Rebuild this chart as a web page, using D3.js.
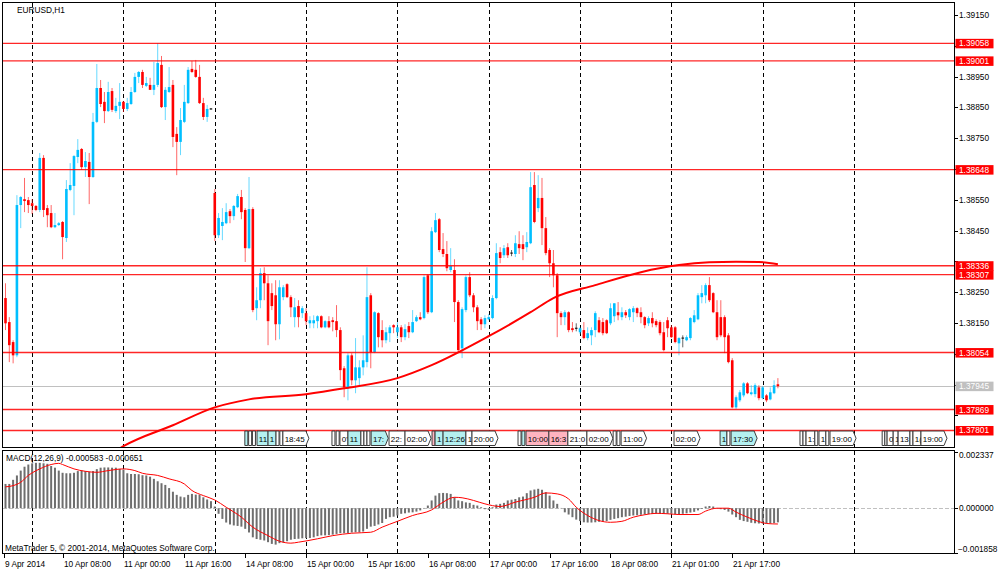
<html>
<head>
  <meta http-equiv="Content-Type" content="text/html;charset=utf-8"/>
  <script src="https://cdn.jsdelivr.net/npm/d3@7/dist/d3.min.js"></script>
  <style>
    body { margin: 0; background: #fff; }
    svg { display: block; }
    text { font-family: "Liberation Sans", Arial, sans-serif; font-size: 8.3px; fill: #000; }
  </style>
</head>
<body>
<svg id="chart" width="1000" height="574"></svg>
<script>
// EURUSD H1, one value per bar (bar 0 = 9 Apr 17:00)
var opens = [
  1.38231,1.38153,1.38088,1.38045,1.38533,1.38552,1.38549,1.38539,1.38530,1.38517,
  1.38686,1.38523,1.38507,1.38461,1.38468,1.38478,1.38426,1.38582,1.38595,1.38689,
  1.38715,1.38656,1.38673,1.38624,1.38803,1.38913,1.38868,1.38838,1.38903,1.38838,
  1.38855,1.38868,1.38845,1.38861,1.38900,1.38949,1.38965,1.38920,1.38923,1.38907,
  1.38923,1.38988,1.38851,1.38900,1.38923,1.38764,1.38738,1.38803,1.38864,1.38975,
  1.38972,1.38949,1.38864,1.38819,1.38845,1.38572,1.38435,1.38465,1.38474,1.38513,
  1.38497,1.38526,1.38559,1.38517,1.38393,1.38520,1.38198,1.38224,1.38312,1.38279,
  1.38247,1.38240,1.38146,1.38234,1.38276,1.38234,1.38169,1.38205,1.38182,1.38182,
  1.38149,1.38149,1.38156,1.38172,1.38136,1.38156,1.38159,1.38156,1.38127,1.38003,
  1.37938,1.38045,1.37964,1.37971,1.38006,1.38023,1.38240,1.38055,1.38182,1.38127,
  1.38094,1.38117,1.38143,1.38120,1.38136,1.38104,1.38140,1.38120,1.38156,1.38169,
  1.38166,1.38305,1.38185,1.38445,1.38487,1.38390,1.38374,1.38322,1.38322,1.38218,
  1.38068,1.38192,1.38299,1.38240,1.38201,1.38162,1.38146,1.38162,1.38166,1.38231,
  1.38380,1.38370,1.38396,1.38377,1.38374,1.38406,1.38406,1.38396,1.38409,1.38598,
  1.38523,1.38556,1.38458,1.38387,1.38344,1.38305,1.38182,1.38169,1.38185,1.38133,
  1.38133,1.38120,1.38127,1.38101,1.38110,1.38127,1.38159,1.38153,1.38159,1.38149,
  1.38172,1.38185,1.38169,1.38185,1.38169,1.38185,1.38198,1.38185,1.38169,1.38149,
  1.38166,1.38156,1.38153,1.38120,1.38159,1.38136,1.38136,1.38084,1.38101,1.38094,
  1.38101,1.38153,1.38162,1.38234,1.38240,1.38273,1.38247,1.38185,1.38169,1.38169,
  1.38110,1.38029,1.37876,1.37899,1.37915,1.37954,1.37919,1.37919,1.37941,1.37906,
  1.37915,1.37902,1.37922,1.37951
];
var highs = [
  1.38279,1.38169,1.38094,1.38565,1.38562,1.38621,1.38559,1.38552,1.38533,1.38702,
  1.38695,1.38533,1.38533,1.38507,1.38478,1.38481,1.38614,1.38669,1.38695,1.38747,
  1.38718,1.38705,1.38702,1.38832,1.38991,1.38939,1.38900,1.38933,1.38913,1.38881,
  1.38929,1.38871,1.38881,1.38916,1.38962,1.38968,1.38972,1.38949,1.38946,1.38998,
  1.39059,1.39017,1.38916,1.38981,1.38939,1.38786,1.38848,1.38923,1.38981,1.39001,
  1.39004,1.38988,1.38881,1.38858,1.38848,1.38585,1.38507,1.38523,1.38539,1.38520,
  1.38533,1.38569,1.38582,1.38523,1.38624,1.38526,1.38266,1.38328,1.38331,1.38305,
  1.38279,1.38289,1.38289,1.38273,1.38279,1.38240,1.38231,1.38224,1.38205,1.38198,
  1.38172,1.38175,1.38175,1.38175,1.38159,1.38172,1.38169,1.38208,1.38136,1.38010,
  1.38052,1.38052,1.38101,1.38029,1.38110,1.38331,1.38247,1.38188,1.38185,1.38159,
  1.38136,1.38143,1.38146,1.38153,1.38143,1.38146,1.38153,1.38192,1.38175,1.38185,
  1.38305,1.38309,1.38461,1.38507,1.38491,1.38442,1.38416,1.38393,1.38357,1.38224,
  1.38201,1.38305,1.38315,1.38247,1.38208,1.38169,1.38175,1.38179,1.38240,1.38409,
  1.38396,1.38403,1.38409,1.38387,1.38435,1.38448,1.38435,1.38445,1.38640,1.38640,
  1.38630,1.38621,1.38494,1.38393,1.38387,1.38312,1.38188,1.38192,1.38188,1.38153,
  1.38149,1.38136,1.38153,1.38136,1.38136,1.38188,1.38169,1.38166,1.38162,1.38214,
  1.38214,1.38218,1.38201,1.38192,1.38198,1.38205,1.38201,1.38201,1.38172,1.38172,
  1.38185,1.38162,1.38159,1.38153,1.38169,1.38143,1.38140,1.38104,1.38110,1.38110,
  1.38169,1.38192,1.38247,1.38273,1.38279,1.38299,1.38250,1.38224,1.38224,1.38175,
  1.38117,1.38036,1.37915,1.37932,1.37958,1.37958,1.37948,1.37954,1.37948,1.37945,
  1.37919,1.37941,1.37964,1.37971
];
var lows = [
  1.38127,1.38023,1.38019,1.38039,1.38458,1.38510,1.38507,1.38504,1.38513,1.38510,
  1.38494,1.38461,1.38458,1.38458,1.38465,1.38357,1.38413,1.38578,1.38500,1.38669,
  1.38647,1.38624,1.38536,1.38621,1.38799,1.38851,1.38799,1.38835,1.38835,1.38832,
  1.38812,1.38835,1.38838,1.38858,1.38897,1.38929,1.38913,1.38916,1.38907,1.38890,
  1.38916,1.38848,1.38809,1.38897,1.38721,1.38630,1.38695,1.38799,1.38861,1.38962,
  1.38946,1.38861,1.38809,1.38803,1.38842,1.38416,1.38426,1.38419,1.38471,1.38474,
  1.38484,1.38523,1.38487,1.38348,1.38390,1.38185,1.38159,1.38198,1.38224,1.38078,
  1.38192,1.38094,1.38097,1.38224,1.38231,1.38169,1.38136,1.38136,1.38166,1.38143,
  1.38133,1.38133,1.38133,1.38133,1.38133,1.38133,1.38123,1.38104,1.37964,1.37909,
  1.37899,1.37948,1.37922,1.37948,1.37980,1.38006,1.38003,1.38052,1.38071,1.38071,
  1.38084,1.38088,1.38117,1.38101,1.38088,1.38094,1.38101,1.38117,1.38153,1.38159,
  1.38162,1.38179,1.38182,1.38442,1.38380,1.38364,1.38318,1.38315,1.38153,1.38055,
  1.38036,1.38185,1.38234,1.38185,1.38127,1.38127,1.38133,1.38159,1.38162,1.38227,
  1.38344,1.38361,1.38361,1.38367,1.38364,1.38374,1.38354,1.38380,1.38406,1.38474,
  1.38510,1.38403,1.38370,1.38299,1.38266,1.38104,1.38143,1.38143,1.38120,1.38120,
  1.38123,1.38114,1.38097,1.38094,1.38078,1.38104,1.38117,1.38110,1.38114,1.38143,
  1.38153,1.38159,1.38159,1.38166,1.38159,1.38153,1.38169,1.38149,1.38133,1.38140,
  1.38136,1.38136,1.38110,1.38058,1.38104,1.38101,1.38084,1.38045,1.38071,1.38091,
  1.38094,1.38149,1.38159,1.38214,1.38214,1.38218,1.38182,1.38094,1.38104,1.38052,
  1.38019,1.37873,1.37870,1.37893,1.37909,1.37919,1.37915,1.37909,1.37899,1.37902,
  1.37893,1.37899,1.37919,1.37938
];
var closes = [
  1.38149,1.38078,1.38045,1.38533,1.38559,1.38546,1.38533,1.38530,1.38517,1.38686,
  1.38517,1.38500,1.38461,1.38468,1.38474,1.38429,1.38585,1.38598,1.38692,1.38712,
  1.38656,1.38676,1.38624,1.38803,1.38913,1.38861,1.38838,1.38900,1.38842,1.38855,
  1.38868,1.38845,1.38864,1.38900,1.38949,1.38965,1.38923,1.38929,1.38907,1.38923,
  1.38994,1.38851,1.38907,1.38916,1.38754,1.38738,1.38809,1.38868,1.38972,1.38965,
  1.38949,1.38864,1.38819,1.38845,1.38845,1.38435,1.38491,1.38478,1.38510,1.38497,
  1.38530,1.38562,1.38510,1.38393,1.38520,1.38192,1.38224,1.38312,1.38279,1.38156,
  1.38205,1.38146,1.38266,1.38266,1.38234,1.38201,1.38201,1.38169,1.38198,1.38156,
  1.38159,1.38159,1.38172,1.38136,1.38156,1.38136,1.38153,1.38127,1.37997,1.37941,
  1.38045,1.37964,1.38006,1.38006,1.38029,1.38234,1.38055,1.38185,1.38104,1.38094,
  1.38120,1.38136,1.38136,1.38136,1.38104,1.38130,1.38120,1.38153,1.38169,1.38162,
  1.38299,1.38185,1.38448,1.38484,1.38387,1.38374,1.38328,1.38335,1.38218,1.38062,
  1.38195,1.38299,1.38240,1.38201,1.38156,1.38146,1.38166,1.38169,1.38231,1.38377,
  1.38361,1.38393,1.38370,1.38377,1.38409,1.38393,1.38390,1.38413,1.38591,1.38478,
  1.38556,1.38458,1.38377,1.38344,1.38305,1.38182,1.38169,1.38185,1.38127,1.38127,
  1.38133,1.38133,1.38101,1.38117,1.38127,1.38182,1.38120,1.38117,1.38117,1.38198,
  1.38214,1.38175,1.38185,1.38175,1.38195,1.38198,1.38182,1.38169,1.38143,1.38166,
  1.38149,1.38143,1.38117,1.38062,1.38133,1.38104,1.38088,1.38101,1.38101,1.38104,
  1.38166,1.38175,1.38240,1.38247,1.38273,1.38224,1.38185,1.38104,1.38110,1.38104,
  1.38023,1.37876,1.37909,1.37925,1.37954,1.37922,1.37925,1.37948,1.37906,1.37941,
  1.37899,1.37925,1.37948,1.37945
];

// moving average (bar index, price)
var maIdx = [28, 31, 44, 55, 64, 79, 89, 103, 112, 127, 138, 144, 155, 167, 177, 185, 192, 198, 203];
var maVal = [1.37727, 1.37750, 1.37818, 1.37876, 1.37902, 1.37919, 1.37938, 1.37971, 1.38013, 1.38107,
             1.38185, 1.38231, 1.38273, 1.38315, 1.38338, 1.38347, 1.38349, 1.38348, 1.38341];

// horizontal levels and current bid
var levels = [1.39058, 1.39001, 1.38648, 1.38336, 1.38307, 1.38054, 1.37869, 1.37801];
var bid = 1.37945;
var priceTicks = [1.39150, 1.39050, 1.38950, 1.38850, 1.38750, 1.38650, 1.38550, 1.38450,
                  1.38350, 1.38250, 1.38150, 1.38050, 1.37950, 1.37850];

// MACD(12,26,9): histogram per bar, signal read at sample bars
var macdHist = [
  0.00100,0.00100,0.00117,0.00135,0.00155,0.00171,0.00180,0.00185,0.00187,0.00187,
  0.00185,0.00183,0.00174,0.00167,0.00155,0.00146,0.00144,0.00144,0.00146,0.00153,
  0.00155,0.00153,0.00150,0.00153,0.00161,0.00167,0.00168,0.00168,0.00167,0.00167,
  0.00162,0.00159,0.00144,0.00141,0.00141,0.00140,0.00136,0.00135,0.00130,0.00121,
  0.00111,0.00103,0.00096,0.00083,0.00068,0.00055,0.00048,0.00045,0.00055,0.00059,
  0.00056,0.00055,0.00045,0.00036,0.00029,0.00007,-0.00023,-0.00044,-0.00059,-0.00067,
  -0.00071,-0.00073,-0.00076,-0.00085,-0.00100,-0.00120,-0.00127,-0.00130,-0.00133,-0.00140,
  -0.00147,-0.00150,-0.00144,-0.00141,-0.00136,-0.00130,-0.00127,-0.00126,-0.00124,-0.00123,
  -0.00123,-0.00120,-0.00115,-0.00112,-0.00112,-0.00111,-0.00109,-0.00106,-0.00103,-0.00103,
  -0.00102,-0.00100,-0.00099,-0.00099,-0.00096,-0.00085,-0.00076,-0.00073,-0.00067,-0.00061,
  -0.00044,-0.00037,-0.00035,-0.00030,-0.00023,-0.00021,-0.00018,-0.00017,-0.00014,-0.00009,
  0.00001,0.00011,0.00032,0.00052,0.00062,0.00063,0.00062,0.00059,0.00045,0.00032,
  0.00029,0.00024,0.00022,0.00014,0.00011,0.00004,-0.00004,-0.00007,0.00004,0.00015,
  0.00018,0.00022,0.00032,0.00035,0.00038,0.00045,0.00048,0.00062,0.00073,0.00077,
  0.00080,0.00076,0.00066,0.00052,0.00032,0.00018,0.00001,-0.00017,-0.00026,-0.00037,
  -0.00047,-0.00053,-0.00058,-0.00059,-0.00059,-0.00058,-0.00056,-0.00055,-0.00053,-0.00048,
  -0.00044,-0.00041,-0.00037,-0.00035,-0.00032,-0.00030,-0.00029,-0.00027,-0.00026,-0.00024,
  -0.00023,-0.00023,-0.00022,-0.00022,-0.00023,-0.00023,-0.00024,-0.00024,-0.00023,-0.00021,
  -0.00018,-0.00015,-0.00009,-0.00003,0.00007,0.00009,0.00007,0.00001,-0.00004,-0.00007,
  -0.00014,-0.00026,-0.00037,-0.00048,-0.00053,-0.00056,-0.00060,-0.00062,-0.00063,-0.00063,
  -0.00063,-0.00062,-0.00061,-0.000583
];
var sigIdx = [0,2,4,6,9,12,14,15,18,21,24,27,31,34,36,40,43,47,49,52,
              55,58,62,65,69,72,75,77,82,86,91,96,99,103,107,112,115,118,120,123,
              126,130,134,139,142,145,148,150,153,156,159,162,165,168,171,174,177,182,184,187,
              190,192,195,198,200,203];
var sigVal = [0.00088,0.00093,0.00107,0.00135,0.00162,0.00180,0.00185,0.00180,0.00162,0.00152,
              0.00148,0.00155,0.00162,0.00155,0.00144,0.00135,0.00121,0.00100,0.00073,0.00052,
              0.00034,0.00004,-0.00037,-0.00078,-0.00113,-0.00136,-0.00144,-0.00140,-0.00126,-0.00113,
              -0.00103,-0.00099,-0.00078,-0.00054,-0.00030,-0.00007,0.00025,0.00045,0.00043,0.00032,
              0.00018,0.00007,0.00025,0.00045,0.00063,0.00059,0.00038,0.00004,-0.00030,-0.00051,
              -0.00058,-0.00054,-0.00037,-0.00027,-0.00021,-0.00023,-0.00026,-0.00026,-0.00012,0,
              0,-0.00016,-0.00037,-0.00055,-0.00063,-0.000651];
var macdMax = 0.002337, macdMin = -0.001858;

// time axis
var timeIdx = [-0.5, 15, 31, 47, 63, 79, 95, 111, 127, 143, 159, 175, 191];
var timeText = ["9 Apr 2014", "10 Apr 08:00", "11 Apr 00:00", "11 Apr 16:00", "14 Apr 08:00",
                "15 Apr 00:00", "15 Apr 16:00", "16 Apr 08:00", "17 Apr 00:00", "17 Apr 16:00",
                "18 Apr 08:00", "21 Apr 01:00", "21 Apr 17:00"];
var gridIdx = [7, 31, 55, 79, 103, 127, 151, 175, 199, 223];

// calendar events (bar position, shown text, 0 plain / 1 cyan / 2 pink)
var evIdx = [62.9, 63.9, 64.9, 66.1, 69, 71.1, 72.1, 72.9, 85.8, 86.9, 87.9, 90, 93.4, 94.2, 95, 96.1,
             100.8, 105, 112.1, 112.9, 115, 121, 122.6, 134.7, 135.7, 136.8, 142.8, 147.8, 152.8,
             159.7, 160.7, 161.8, 175.7, 187.8, 189.6, 190.7, 208.8, 209.6, 210.4, 212.7, 213.8,
             215.6, 216.7, 230.4, 231.1, 231.7, 233.3, 234.6, 237.7, 238.5, 240.6];
var evText = ["", "", "", "11", "1", "", "", "18:45", "", "", "0'", "11", "", "", "", "17:",
              "22:", "02:00", "", "1", "12:26", "1", "20:00", "", "", "10:00", "16:3", "21:0", "02:00",
              "", "", "11:00", "02:00", "1", "", "17:30", "", "", "1:", "", "1",
              "", "19:00", "", "", "0", "1", "13", "", "1(", "19:00"];
var evKind = [1, 0, 0, 1, 1, 0, 0, 0, 0, 0, 0, 1, 0, 0, 0, 1,
              0, 0, 2, 1, 1, 0, 0, 0, 1, 2, 2, 0, 0,
              0, 0, 0, 0, 1, 0, 1, 0, 0, 0, 0, 0,
              0, 0, 0, 0, 0, 0, 0, 0, 0, 0];

var svg = d3.select('#chart');
var left = 2.5, right = 954.5;
var mainTop = 2.5, mainBottom = 447.5, macdTop = 450.5, macdBottom = 553.5;

var x = d3.scaleLinear().domain([0, 223]).range([5.5, 854]);
var y = d3.scaleLinear().domain([1.37850, 1.39150]).range([415.4, 15]);
var ym = d3.scaleLinear().domain([macdMin, macdMax]).range([553.3, 451.5]);
var px = function(v) { return Math.round(v) + 0.5; };

var defs = svg.append('defs');
defs.append('clipPath').attr('id', 'clipMain').append('rect')
  .attr('x', left).attr('y', mainTop).attr('width', right - left).attr('height', mainBottom - mainTop);
defs.append('clipPath').attr('id', 'clipMacd').append('rect')
  .attr('x', left).attr('y', macdTop).attr('width', right - left).attr('height', macdBottom - macdTop);

svg.append('rect').attr('width', 1000).attr('height', 574).attr('fill', '#fff');

// vertical grid in both panels
[[mainTop, mainBottom], [macdTop, macdBottom]].forEach(function(p) {
  svg.append('g').selectAll('line').data(gridIdx).enter().append('line')
    .attr('x1', function(d) { return px(x(d)); }).attr('x2', function(d) { return px(x(d)); })
    .attr('y1', p[0]).attr('y2', p[1])
    .attr('stroke', '#000').attr('stroke-dasharray', '4,3').attr('shape-rendering', 'crispEdges');
});

// ---- main panel ----
var main = svg.append('g').attr('clip-path', 'url(#clipMain)');

main.append('line').attr('x1', left).attr('x2', right)
  .attr('y1', px(y(bid))).attr('y2', px(y(bid)))
  .attr('stroke', '#c0c0c0').attr('shape-rendering', 'crispEdges');

var candles = d3.range(opens.length).map(function(i) {
  return { i: i, o: opens[i], h: highs[i], l: lows[i], c: closes[i] };
});
function col(d) { return d.c > d.o ? '#00bfff' : (d.c < d.o ? '#ff0000' : '#000000'); }

main.append('g').selectAll('line').data(candles).enter().append('line')
  .attr('x1', function(d) { return x(d.i); }).attr('x2', function(d) { return x(d.i); })
  .attr('y1', function(d) { return y(d.h); }).attr('y2', function(d) { return y(d.l); })
  .attr('stroke', col).attr('stroke-width', 1).attr('stroke-opacity', 0.6);

main.append('g').selectAll('rect').data(candles).enter().append('rect')
  .attr('x', function(d) { return x(d.i) - 1.3; })
  .attr('width', 2.6)
  .attr('y', function(d) { return Math.min(y(d.o), y(d.c)) - (d.o === d.c ? 0.5 : 0); })
  .attr('height', function(d) { return Math.max(1, Math.abs(y(d.o) - y(d.c))); })
  .attr('fill', col);

main.append('path')
  .datum(d3.zip(maIdx, maVal))
  .attr('d', d3.line().x(function(d) { return x(d[0]); }).y(function(d) { return y(d[1]); })
    .curve(d3.curveMonotoneX))
  .attr('fill', 'none').attr('stroke', '#ff0000').attr('stroke-width', 2);

main.append('g').selectAll('line').data(levels).enter().append('line')
  .attr('x1', left).attr('x2', right)
  .attr('y1', function(d) { return y(d); }).attr('y2', function(d) { return y(d); })
  .attr('stroke', '#ff0000').attr('stroke-width', 1.4).attr('stroke-opacity', 0.85);

// calendar event boxes
var evG = main.append('g');
var boxTop = 431, boxBottom = 445.5, arrowW = 3;
evIdx.forEach(function(ix, k) {
  var x0 = x(ix);
  var gap = k < evIdx.length - 1 ? x(evIdx[k + 1]) - x0 : 200;
  var txt = evText[k];
  var g = evG.append('g');
  var shape = g.append('path');
  var t = g.append('text').attr('x', x0 + 1.8).attr('y', 441.8).style('font-size', '8px').text(txt);
  var tw = txt ? t.node().getComputedTextLength() : 0;
  var fill = evKind[k] === 1 ? '#b4f0f0' : (evKind[k] === 2 ? '#ffb4c0' : '#ffffff');
  var d;
  if (txt && gap >= tw + 3 + arrowW - 0.5) {
    var w = tw + 3;
    d = 'M' + x0 + ',' + boxTop + 'H' + (x0 + w) + 'L' + (x0 + w + arrowW) + ',' + ((boxTop + boxBottom) / 2) +
        'L' + (x0 + w) + ',' + boxBottom + 'H' + x0 + 'Z';
  } else {
    var w2 = txt ? gap : Math.min(gap, 3);
    d = 'M' + x0 + ',' + boxTop + 'H' + (x0 + w2) + 'V' + boxBottom + 'H' + x0 + 'Z';
  }
  shape.attr('d', d).attr('fill', fill).attr('stroke', '#3c3c3c').attr('stroke-width', 1);
});

svg.append('text').attr('x', 17).attr('y', 12.7).text('EURUSD,H1');

// ---- MACD panel ----
var macd = svg.append('g').attr('clip-path', 'url(#clipMacd)');
macd.append('line').attr('x1', left).attr('x2', right)
  .attr('y1', px(ym(0))).attr('y2', px(ym(0)))
  .attr('stroke', '#c0c0c0').attr('stroke-dasharray', '4,2').attr('shape-rendering', 'crispEdges');

macd.append('g').selectAll('rect').data(macdHist).enter().append('rect')
  .attr('x', function(d, i) { return x(i) - 1; })
  .attr('width', 2)
  .attr('y', function(d) { return Math.min(ym(0), ym(d)); })
  .attr('height', function(d) { return Math.abs(ym(d) - ym(0)); })
  .attr('fill', '#6e6e6e');

macd.append('path')
  .datum(d3.zip(sigIdx, sigVal))
  .attr('d', d3.line().x(function(d) { return x(d[0]); }).y(function(d) { return ym(d[1]); })
    .curve(d3.curveMonotoneX))
  .attr('fill', 'none').attr('stroke', '#ff0000').attr('stroke-width', 1);

svg.append('text').attr('x', 6).attr('y', 461)
  .text('MACD(12,26,9) -0.000583 -0.000651');
svg.append('text').attr('x', 5).attr('y', 551)
  .text('MetaTrader 5, \u00a9 2001-2014, MetaQuotes Software Corp.');

// ---- frames ----
[[mainTop, mainBottom], [macdTop, macdBottom]].forEach(function(p) {
  svg.append('rect').attr('x', left).attr('y', p[0]).attr('width', right - left).attr('height', p[1] - p[0])
    .attr('fill', 'none').attr('stroke', '#000').attr('shape-rendering', 'crispEdges');
});

// ---- price axis ----
var fmt = d3.format('.5f');
var pa = svg.append('g');
pa.selectAll('line').data(priceTicks).enter().append('line')
  .attr('x1', right).attr('x2', right + 3)
  .attr('y1', function(d) { return px(y(d)); }).attr('y2', function(d) { return px(y(d)); })
  .attr('stroke', '#000').attr('shape-rendering', 'crispEdges');
// like the terminal, a grid label is not printed where a level tag sits on it
var tagged = levels.concat([bid]);
var freeTicks = priceTicks.filter(function(t) {
  return tagged.every(function(p) { return Math.abs(y(p) - y(t)) > 9; });
});
pa.selectAll('text').data(freeTicks).enter().append('text')
  .attr('x', 959).attr('y', function(d) { return y(d) + 3; })
  .text(fmt);

function tag(price, bg) {
  var g = svg.append('g');
  g.append('rect').attr('x', 955.5).attr('y', y(price) - 4.5).attr('width', 38).attr('height', 9.5)
    .attr('fill', bg);
  g.append('text').attr('x', 959).attr('y', y(price) + 3).style('fill', '#fff').text(fmt(price));
}
levels.forEach(function(p) { tag(p, '#ff0000'); });
tag(bid, '#c0c0c0');

// MACD axis
var macdTicks = [macdMax, 0, macdMin];
var macdOff = [6, 3, -1];
var mfmt = d3.format('.6f');
macdTicks.forEach(function(v, k) {
  svg.append('line').attr('x1', right).attr('x2', right + 3)
    .attr('y1', px(ym(v))).attr('y2', px(ym(v)))
    .attr('stroke', '#000').attr('shape-rendering', 'crispEdges');
  svg.append('text').attr('x', v < 0 ? 958 : 959).attr('y', ym(v) + macdOff[k]).text(mfmt(v));
});

// ---- time axis ----
var ta = svg.append('g');
timeIdx.forEach(function(ix, k) {
  var tx = px(Math.max(x(ix), 3));
  ta.append('line').attr('x1', tx).attr('x2', tx).attr('y1', macdBottom).attr('y2', macdBottom + 4)
    .attr('stroke', '#000').attr('shape-rendering', 'crispEdges');
  ta.append('text').attr('x', tx + 0.5).attr('y', 566.5).text(timeText[k]);
});
</script>
</body>
</html>
